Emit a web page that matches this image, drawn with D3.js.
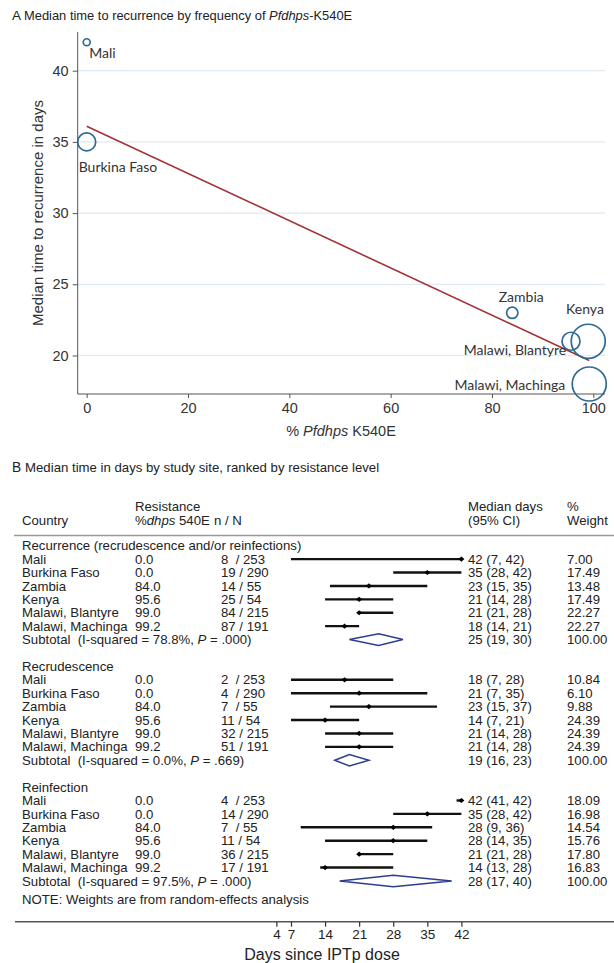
<!DOCTYPE html>
<html><head><meta charset="utf-8">
<script src="https://cdn.jsdelivr.net/npm/d3@7/dist/d3.min.js"></script>
<style>
body{margin:0;background:#fff;}
svg{display:block;font-family:"Liberation Sans",Arial,sans-serif;}
</style></head><body>
<svg id="c" width="614" height="963"></svg>
<script>
// ---------- Panel A data ----------
const sites = ["Mali","Burkina Faso","Zambia","Kenya","Malawi, Blantyre","Malawi, Machinga"];
const k540e = [0.0, 0.0, 84.0, 95.6, 99.0, 99.2];
const medianRecurrence = [42, 35, 23, 21, 21, 18];
const bubbleWeight = [12, 81, 32, 81, 289, 289];
const fitX = [0, 99.2];
const fitY = [36.1, 19.65];
const yTicksA = [20, 25, 30, 35, 40];
const xTicksA = [0, 20, 40, 60, 80, 100];

// ---------- Panel B data ----------
const groups = ["Recurrence (recrudescence and/or reinfections)", "Recrudescence", "Reinfection"];
const resistance = ["0.0", "0.0", "84.0", "95.6", "99.0", "99.2"];
const nOverN = [
  ["8  / 253", "19 / 290", "14 / 55", "25 / 54", "84 / 215", "87 / 191"],
  ["2  / 253", "4  / 290", "7  / 55", "11 / 54", "32 / 215", "51 / 191"],
  ["4  / 253", "14 / 290", "7  / 55", "11 / 54", "36 / 215", "17 / 191"]
];
const est = [[42, 35, 23, 21, 21, 18], [18, 21, 23, 14, 21, 21], [42, 35, 28, 28, 21, 14]];
const lo  = [[7, 28, 15, 14, 21, 14], [7, 7, 15, 7, 14, 14], [41, 28, 9, 14, 21, 13]];
const hi  = [[42, 42, 35, 28, 28, 21], [28, 35, 37, 21, 28, 28], [42, 42, 36, 35, 28, 28]];
const weights = [
  ["7.00", "17.49", "13.48", "17.49", "22.27", "22.27"],
  ["10.84", "6.10", "9.88", "24.39", "24.39", "24.39"],
  ["18.09", "16.98", "14.54", "15.76", "17.80", "16.83"]
];
const subEst = [25, 19, 28], subLo = [19, 16, 17], subHi = [30, 23, 40];
const subI2 = ["78.8%", "0.0%", "97.5%"], subP = [".000", ".669", ".000"];
const xTicksB = [4, 7, 14, 21, 28, 35, 42];

// ---------- layout (styling only) ----------
const labelLayout = [
  {dx: 2.5, dy: 11, anchor: "start"},
  {dx: -8, dy: 25, anchor: "start"},
  {dx: 9, dy: -16, anchor: "middle"},
  {dx: 14, dy: -32, anchor: "middle"},
  {dx: -22, dy: 9, anchor: "end"},
  {dx: -24, dy: 1.5, anchor: "end"}
];

const svg = d3.select("#c");
const txt = "#222";

// ================= Panel A =================
const xA = d3.scaleLinear().domain([0, 100]).range([86.7, 593.3]);
const yA = d3.scaleLinear().domain([20, 40]).range([355.5, 70.7]);
const rA = d3.scaleSqrt().domain([0, 289]).range([0, 17]);
const axL = 77.7, axR = 605, axT = 32, axB = 394;

svg.append("text").attr("x", 12).attr("y", 15.7).attr("dy", "0.35em")
  .attr("font-size", 12.9).attr("fill", txt)
  .call(t => {
    t.append("tspan").attr("font-size", 13.5).text("A ");
    t.append("tspan").text("Median time to recurrence by frequency of ");
    t.append("tspan").attr("font-style", "italic").text("Pfdhps");
    t.append("tspan").text("-K540E");
  });

const gA = svg.append("g");
gA.selectAll("line.grid").data(yTicksA).join("line")
  .attr("x1", axL).attr("x2", axR)
  .attr("y1", d => yA(d)).attr("y2", d => yA(d))
  .attr("stroke", "#e0eaf0").attr("stroke-width", 1.2);

const yAxisA = d3.axisLeft(yA).tickValues(yTicksA).tickSize(5).tickPadding(4);
const gy = gA.append("g").attr("transform", `translate(${axL},0)`).call(yAxisA);
gy.select(".domain").remove();
gy.selectAll("line").attr("stroke", "#555");
gy.selectAll("text").attr("font-size", 14.5).attr("fill", "#333").attr("font-family", "Liberation Sans, Arial");
gA.append("line").attr("x1", axL).attr("x2", axL).attr("y1", axT).attr("y2", axB)
  .attr("stroke", "#555").attr("stroke-width", 1);

const xAxisA = d3.axisBottom(xA).tickValues(xTicksA).tickSize(4).tickPadding(5);
const gx = gA.append("g").attr("transform", `translate(0,${axB})`).call(xAxisA);
gx.select(".domain").remove();
gx.selectAll("line").attr("stroke", "#555");
gx.selectAll("text").attr("font-size", 14.5).attr("fill", "#333").attr("font-family", "Liberation Sans, Arial");
gA.append("line").attr("x1", axL).attr("x2", axR).attr("y1", axB).attr("y2", axB)
  .attr("stroke", "#555").attr("stroke-width", 1);

svg.append("text").attr("transform", "translate(37.5,213) rotate(-90)")
  .attr("text-anchor", "middle").attr("dy", "0.35em")
  .attr("font-size", 15).attr("fill", "#333")
  .text("Median time to recurrence in days");
svg.append("text").attr("x", 341).attr("y", 431).attr("dy", "0.35em")
  .attr("text-anchor", "middle").attr("font-size", 14.5).attr("fill", "#333")
  .call(t => {
    t.append("tspan").text("% ");
    t.append("tspan").attr("font-style", "italic").text("Pfdhps");
    t.append("tspan").text(" K540E");
  });

gA.append("line")
  .attr("x1", xA(fitX[0])).attr("y1", yA(fitY[0]))
  .attr("x2", xA(fitX[1])).attr("y2", yA(fitY[1]))
  .attr("stroke", "#a33238").attr("stroke-width", 1.6);

const ptsA = sites.map((s, i) => ({s, x: k540e[i], y: medianRecurrence[i], w: bubbleWeight[i], l: labelLayout[i]}));
gA.selectAll("circle.b").data(ptsA).join("circle")
  .attr("cx", d => xA(d.x)).attr("cy", d => yA(d.y)).attr("r", d => rA(d.w))
  .attr("fill", "none").attr("stroke", "#2f6b91").attr("stroke-width", 1.7);
gA.selectAll("text.lab").data(ptsA).join("text")
  .attr("x", d => xA(d.x) + d.l.dx).attr("y", d => yA(d.y) + d.l.dy)
  .attr("dy", "0.35em").attr("text-anchor", d => d.l.anchor)
  .attr("font-size", 14).attr("fill", "#333")
  .attr("font-family", "Lato, 'Open Sans', sans-serif")
  .text(d => d.s);

// ================= Panel B =================
svg.append("text").attr("x", 12).attr("y", 467).attr("dy", "0.35em")
  .attr("font-size", 13.2).attr("fill", txt)
  .call(t => {
    t.append("tspan").attr("font-size", 13.8).text("B ");
    t.append("tspan").text("Median time in days by study site, ranked by resistance level");
  });

const colX = {country: 22, res: 135, nHead: 214, n: 221, ci: 468, w: 567};
const fs = 13.2;
const hdr = svg.append("g").attr("font-size", fs).attr("fill", txt);
function htext(x, y, str) {
  return hdr.append("text").attr("x", x).attr("y", y).attr("dy", "0.35em").text(str);
}
htext(colX.res, 506, "Resistance");
htext(colX.ci, 506, "Median days");
htext(colX.w, 506, "%");
htext(colX.country, 520, "Country");
hdr.append("text").attr("x", colX.res).attr("y", 520).attr("dy", "0.35em")
  .call(t => {
    t.append("tspan").text("%");
    t.append("tspan").attr("font-style", "italic").text("dhps");
    t.append("tspan").text(" 540E");
  });
htext(colX.nHead, 520, "n / N");
htext(colX.ci, 520, "(95% CI)");
htext(colX.w, 520, "Weight");
svg.append("line").attr("x1", 14).attr("x2", 614).attr("y1", 535.5).attr("y2", 535.5)
  .attr("stroke", "#999").attr("stroke-width", 1.6);

const xB = d3.scaleLinear().domain([0, 42]).range([256.9, 461.4]);
const rowY = i => 545.7 + i * 13.41;

const gB = svg.append("g").attr("font-size", fs).attr("fill", txt);
groups.forEach((g, gi) => {
  const base = gi * 9;
  gB.append("text").attr("x", colX.country).attr("y", rowY(base)).attr("dy", "0.35em").text(g);
  const rows = sites.map((s, i) => ({s, i, r: resistance[i], n: nOverN[gi][i], e: est[gi][i], l: lo[gi][i], h: hi[gi][i], w: weights[gi][i]}));
  rows.forEach(d => {
    const y = rowY(base + 1 + d.i);
    gB.append("text").attr("x", colX.country).attr("y", y).attr("dy", "0.35em").text(d.s);
    gB.append("text").attr("x", colX.res).attr("y", y).attr("dy", "0.35em").text(d.r);
    gB.append("text").attr("x", colX.n).attr("y", y).attr("dy", "0.35em")
      .attr("xml:space", "preserve").style("white-space", "pre").text(d.n);
    gB.append("text").attr("x", colX.ci).attr("y", y).attr("dy", "0.35em")
      .text(`${d.e} (${d.l}, ${d.h})`);
    gB.append("text").attr("x", colX.w).attr("y", y).attr("dy", "0.35em").text(d.w);
    gB.append("line").attr("x1", xB(d.l)).attr("x2", xB(d.h)).attr("y1", y).attr("y2", y)
      .attr("stroke", "#111").attr("stroke-width", 2.4);
    const cx = xB(d.e);
    gB.append("path").attr("d", `M${cx - 3},${y} L${cx},${y - 2.6} L${cx + 3},${y} L${cx},${y + 2.6} Z`)
      .attr("fill", "#000");
  });
  const ys = rowY(base + 7);
  gB.append("text").attr("x", colX.country).attr("y", ys).attr("dy", "0.35em")
    .attr("xml:space", "preserve").style("white-space", "pre")
    .call(t => {
      t.append("tspan").text(`Subtotal  (I-squared = ${subI2[gi]}, `);
      t.append("tspan").attr("font-style", "italic").text("P");
      t.append("tspan").text(` = ${subP[gi]})`);
    });
  gB.append("text").attr("x", colX.ci).attr("y", ys).attr("dy", "0.35em")
    .text(`${subEst[gi]} (${subLo[gi]}, ${subHi[gi]})`);
  gB.append("text").attr("x", colX.w).attr("y", ys).attr("dy", "0.35em").text("100.00");
  const h = 5.8;
  gB.append("path")
    .attr("d", `M${xB(subLo[gi])},${ys} L${xB(subEst[gi])},${ys - h} L${xB(subHi[gi])},${ys} L${xB(subEst[gi])},${ys + h} Z`)
    .attr("fill", "none").attr("stroke", "#2c3e8c").attr("stroke-width", 1.5);
});

gB.append("text").attr("x", colX.country).attr("y", rowY(26.4)).attr("dy", "0.35em")
  .text("NOTE: Weights are from random-effects analysis");

const axYB = 921.7;
svg.append("line").attr("x1", 15).attr("x2", 614).attr("y1", axYB).attr("y2", axYB)
  .attr("stroke", "#555").attr("stroke-width", 1.4);
const gxB = svg.append("g").attr("transform", `translate(0,${axYB})`)
  .call(d3.axisBottom(xB).tickValues(xTicksB).tickSize(5).tickPadding(3));
gxB.select(".domain").remove();
gxB.selectAll("line").attr("stroke", "#333").attr("stroke-width", 1.2);
gxB.selectAll("text").attr("font-size", 13.5).attr("fill", txt).attr("font-family", "Liberation Sans, Arial");
svg.append("text").attr("x", 322).attr("y", 954).attr("dy", "0.35em")
  .attr("text-anchor", "middle").attr("font-size", 16).attr("fill", txt)
  .text("Days since IPTp dose");
</script>
</body></html>
